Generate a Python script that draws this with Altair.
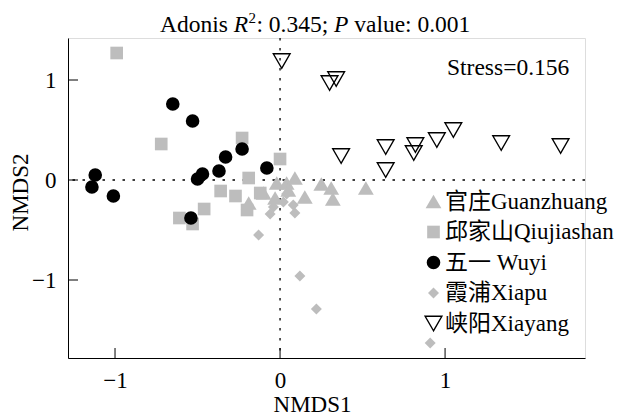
import altair as alt
import pandas as pd

groups = ["官庄Guanzhuang", "邱家山Qiujiashan", "五一 Wuyi", "霞浦Xiapu", "峡阳Xiayang"]

guan_x = [-0.19, -0.10, -0.02, -0.03, 0.04, 0.09, 0.15, 0.25, 0.31, 0.32, 0.52, 0.05]
guan_y = [-0.23, -0.13, -0.03, -0.18, -0.03, 0.02, -0.17, -0.04, -0.08, -0.19, -0.08, -0.10]

qiu_x = [-0.99, -0.72, -0.23, 0.00, -0.19, -0.36, -0.27, -0.12, -0.20, -0.46, -0.61, -0.53]
qiu_y = [1.27, 0.36, 0.42, 0.21, 0.02, -0.11, -0.16, -0.13, -0.30, -0.29, -0.38, -0.44]

wuyi_x = [-0.65, -0.53, -0.23, -0.33, -0.08, -0.37, -0.47, -0.50, -1.12, -1.14, -1.01, -0.54]
wuyi_y = [0.76, 0.59, 0.31, 0.23, 0.12, 0.09, 0.06, 0.01, 0.05, -0.07, -0.16, -0.38]

xiapu_x = [-0.13, -0.06, -0.04, 0.02, 0.08, 0.09, 0.12, 0.22, 0.91, 0.04]
xiapu_y = [-0.55, -0.34, -0.27, -0.22, -0.25, -0.33, -0.96, -1.29, -1.63, -0.14]

xiayang_x = [0.01, 0.30, 0.34, 0.37, 0.64, 0.64, 0.81, 0.82, 0.95, 1.05, 1.34, 1.70]
xiayang_y = [1.19, 0.97, 1.01, 0.24, 0.33, 0.10, 0.27, 0.35, 0.40, 0.50, 0.37, 0.34]

tick_values = [-1, 0, 1]

GREY = "#BDBDBD"
FONT = "Liberation Serif"
LFONT = "Liberation Serif, Noto Sans CJK SC"

series = [
    (groups[0], guan_x, guan_y),
    (groups[1], qiu_x, qiu_y),
    (groups[3], xiapu_x, xiapu_y),
    (groups[2], wuyi_x, wuyi_y),
    (groups[4], xiayang_x, xiayang_y),
]
rows = []
for g, xs, ys in series:
    for a, b in zip(xs, ys):
        rows.append({"group": g, "NMDS1": a, "NMDS2": b})
df = pd.DataFrame(rows)

xdom = [-1.285, 1.848]
ydom = [-1.78, 1.42]
W, H = 517, 320

leg = alt.Legend(
    title=None, orient="none", legendX=354, legendY=152,
    labelFont=LFONT, labelFontSize=23, labelColor="black", labelLimit=0,
    rowPadding=6.5, labelOffset=0, padding=0, symbolStrokeWidth=1.4,
    symbolOpacity=1,
)

xscale = alt.Scale(domain=xdom, nice=False, zero=False)
yscale = alt.Scale(domain=ydom, nice=False, zero=False)

points = alt.Chart(df).mark_point(opacity=1, strokeWidth=1.4).encode(
    x=alt.X("NMDS1:Q", scale=xscale, axis=alt.Axis(
        values=tick_values, format="d", ticks=False, tickSize=0, grid=False,
        labelFont=FONT, labelFontSize=23, labelColor="black", labelPadding=11,
        domainColor="black", domainWidth=1,
        title="NMDS1", titleFont=FONT, titleFontSize=23, titleFontWeight="normal",
        titleColor="black", titleX=244, titleY=53, titleBaseline="alphabetic",
        titleAlign="center")),
    y=alt.Y("NMDS2:Q", scale=yscale, axis=alt.Axis(
        values=tick_values, format="d", ticks=False, tickSize=0, grid=False,
        labelFont=FONT, labelFontSize=23, labelColor="black", labelPadding=12,
        domainColor="black", domainWidth=1,
        title="NMDS2", titleFont=FONT, titleFontSize=23, titleFontWeight="normal",
        titleColor="black", titleX=-41, titleY=154, titleBaseline="alphabetic",
        titleAlign="center", titleAngle=270)),
    shape=alt.Shape("group:N", scale=alt.Scale(
        domain=groups, range=["triangle-up", "square", "circle", "diamond", "triangle-down"]), legend=leg),
    fill=alt.Fill("group:N", scale=alt.Scale(
        domain=groups, range=[GREY, GREY, "black", GREY, "transparent"]), legend=leg),
    stroke=alt.Stroke("group:N", scale=alt.Scale(
        domain=groups, range=["transparent", "transparent", "transparent", "transparent", "black"]), legend=leg),
    size=alt.Size("group:N", scale=alt.Scale(
        type="ordinal", domain=groups, range=[250, 160, 185, 121, 280]), legend=leg),
)

zero_df = pd.DataFrame({"v": [0]})
vline = alt.Chart(zero_df).mark_rule(color="black", strokeDash=[2.5, 7.5], strokeWidth=1.3).encode(
    x=alt.X("v:Q", scale=xscale))
hline = alt.Chart(zero_df).mark_rule(color="black", strokeDash=[2.5, 7.5], strokeWidth=1.3).encode(
    y=alt.Y("v:Q", scale=yscale))

ticks_df = pd.DataFrame({"t": tick_values})
xticks = alt.Chart(ticks_df).mark_rule(color="black", strokeWidth=1).encode(
    x=alt.X("t:Q", scale=xscale), y=alt.value(H), y2=alt.value(H - 10))
yticks = alt.Chart(ticks_df).mark_rule(color="black", strokeWidth=1).encode(
    y=alt.Y("t:Q", scale=yscale), x=alt.value(0), x2=alt.value(10))

def txt(s, x, y, size=23.5, style="normal"):
    return alt.Chart(pd.DataFrame({"s": [s]})).mark_text(
        font=FONT, fontSize=size, fontStyle=style, align="left", baseline="alphabetic",
        color="black").encode(text="s:N", x=alt.value(x), y=alt.value(y))

# widths at 23.5px (Times metrics): "Adonis "=73.8, R=14.4, sup 2=7.5, ": 0.345; "=77.7, P=14.4, space=5.9
x0 = 92.0
title_layers = [
    txt("Adonis", x0, -6),
    txt("R", x0 + 73.8, -6, style="italic"),
    txt("2", x0 + 88.6, -15, size=15),
    txt(":", x0 + 96.4, -6),
    txt("0.345;", x0 + 108.8, -6),
    txt("P", x0 + 173.9, -6, style="italic"),
    txt("value: 0.001", x0 + 194.2, -6),
]
stress = txt("Stress=0.156", 379, 37)

chart = alt.layer(vline, hline, xticks, yticks, points, stress, *title_layers).properties(
    width=W, height=H,
    autosize=alt.AutoSizeParams(type="none"),
    padding={"left": 68, "top": 38, "right": 39, "bottom": 58},
).configure_view(stroke=None).configure(background="white")

chart.save("out.html", embed_options={"renderer": "svg", "actions": False})
